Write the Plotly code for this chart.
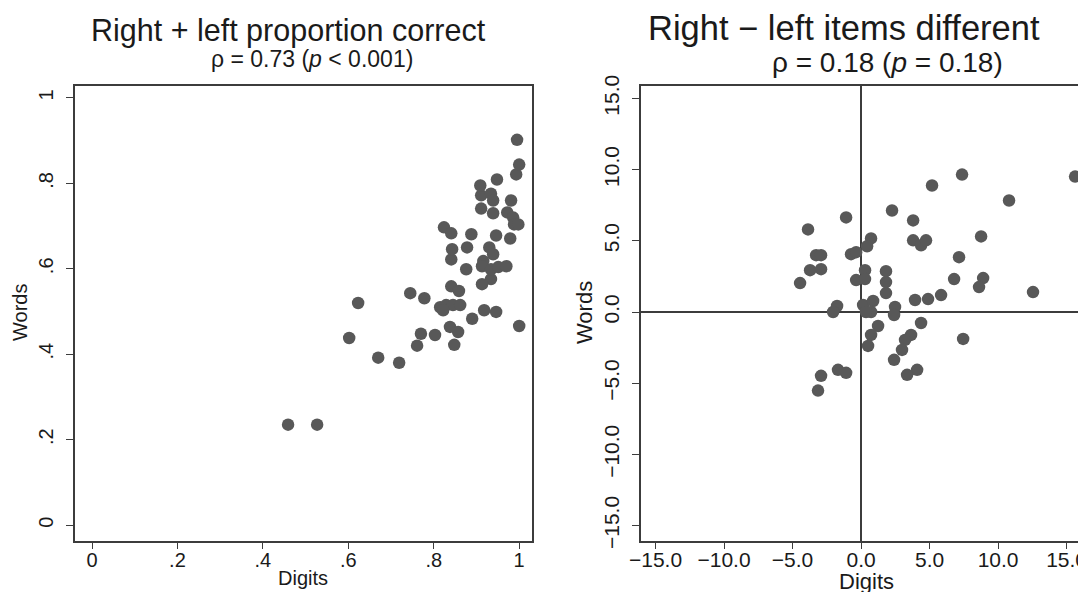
import plotly.graph_objects as go

W, H = 1086, 592

# ---- Data: left panel (right + left proportion correct) ----
digits_prop = [0.459, 0.527, 0.602, 0.623, 0.670, 0.719, 0.745, 0.761, 0.770, 0.778,
               0.803, 0.815, 0.829, 0.845, 0.862, 0.822, 0.848, 0.838, 0.857, 0.890,
               0.918, 0.946, 1.000, 0.841, 0.859, 0.934, 0.913, 0.876, 0.841, 0.916,
               0.913, 0.934, 0.951, 0.970, 0.843, 0.878, 0.930, 0.939, 0.824, 0.841,
               0.888, 0.946, 0.979, 0.911, 0.939, 0.972, 0.986, 0.988, 0.998, 0.911,
               0.934, 0.939, 0.981, 0.909, 0.948, 0.993, 1.000, 0.995]
words_prop = [0.235, 0.235, 0.438, 0.520, 0.392, 0.380, 0.543, 0.420, 0.448, 0.531,
              0.445, 0.510, 0.515, 0.515, 0.515, 0.503, 0.422, 0.464, 0.452, 0.483,
              0.503, 0.499, 0.466, 0.559, 0.548, 0.576, 0.564, 0.599, 0.622, 0.618,
              0.606, 0.599, 0.604, 0.606, 0.646, 0.650, 0.650, 0.634, 0.697, 0.683,
              0.681, 0.678, 0.671, 0.741, 0.730, 0.732, 0.720, 0.704, 0.704, 0.772,
              0.776, 0.760, 0.760, 0.795, 0.809, 0.821, 0.844, 0.902]

# ---- Data: right panel (right - left items different) ----
digits_diff = [-1.09, 2.26, -3.87, 0.73, 0.44, -3.28, -2.92, -0.73, -0.36, -3.72,
               -2.92, 0.29, -0.36, 0.29, 1.82, 1.82, 1.82, -4.45, -1.75, -2.04,
               0.15, 0.88, 0.73, 0.36, 2.48, 2.41, 1.24, 3.80, 8.76, 3.80,
               4.38, 4.74, 7.15, 6.79, 8.91, 8.61, 3.94, 4.89, 5.84, 4.38,
               3.65, 3.21, 2.99, 7.45, 2.41, 4.09, 3.36, 0.73, 0.51, -1.68,
               -1.09, -2.92, -3.14, 7.37, 15.62, 5.18, 10.80, 12.55]
words_diff = [6.64, 7.13, 5.80, 5.17, 4.62, 3.99, 3.99, 4.06, 4.20, 2.94,
              3.01, 2.94, 2.24, 2.31, 2.87, 2.10, 1.33, 2.03, 0.42, 0.00,
              0.49, 0.77, 0.00, 0.00, 0.35, -0.21, -0.98, 6.43, 5.31, 5.03,
              4.69, 5.03, 3.85, 2.31, 2.38, 1.75, 0.84, 0.91, 1.19, -0.77,
              -1.61, -1.96, -2.66, -1.89, -3.36, -4.06, -4.41, -1.61, -2.38, -4.06,
              -4.27, -4.48, -5.52, 9.65, 9.51, 8.88, 7.83, 1.40]

left_ticks = [0, 0.2, 0.4, 0.6, 0.8, 1.0]
left_ticktext = ["0", ".2", ".4", ".6", ".8", "1"]
right_ticks = [-15, -10, -5, 0, 5, 10, 15]
right_ticktext = ["\u221215.0", "\u221210.0", "\u22125.0", "0.0", "5.0", "10.0", "15.0"]

titles = ["Right + left proportion correct", "Right \u2212 left items different"]
subtitles = ["\u03c1 = 0.73 (<i>p</i> &lt; 0.001)", "\u03c1 = 0.18 (<i>p</i> = 0.18)"]
x_title = "Digits"
y_title = "Words"

FONT = "Liberation Sans, Arial, Helvetica, sans-serif"
DOT = "#585858"
AX = "#3c3c3c"
TXT = "#1a1a1a"

def px_x(p):
    return p / W

def px_y(p):
    return 1 - p / H

fig = go.Figure()
fig.add_trace(go.Scatter(x=digits_prop, y=words_prop, mode="markers",
                         marker=dict(size=12.5, color=DOT, line=dict(width=0)),
                         xaxis="x", yaxis="y", showlegend=False))
fig.add_trace(go.Scatter(x=digits_diff, y=words_diff, mode="markers",
                         marker=dict(size=12.5, color=DOT, line=dict(width=0)),
                         xaxis="x2", yaxis="y2", showlegend=False))

ydom = [px_y(533), px_y(78)]

def axis_style(size, ticklen=7, standoff=0):
    return dict(showgrid=False, ticks="outside", ticklen=ticklen, tickwidth=1.2,
                tickcolor=AX, showline=True, linecolor=AX, linewidth=1.5,
                tickfont=dict(family=FONT, size=size, color=TXT),
                ticklabelstandoff=standoff, automargin=False)

fig.update_layout(
    width=W, height=H,
    margin=dict(l=0, r=0, t=0, b=0),
    paper_bgcolor="white", plot_bgcolor="white",
    font=dict(family=FONT, color=TXT),
    xaxis=dict(domain=[px_x(67), px_x(524)], range=[-0.0398, 1.030],
               tickvals=left_ticks, ticktext=left_ticktext, mirror=True,
               zeroline=False, anchor="y", **axis_style(20, 6, -6)),
    yaxis=dict(domain=ydom, range=[-0.0373, 1.028],
               tickvals=left_ticks, ticktext=left_ticktext, mirror=True,
               tickangle=-90, zeroline=False, anchor="x", **axis_style(20, 7, 5)),
    xaxis2=dict(domain=[px_x(633), 1.0], range=[-16.06, 17.0],
                tickvals=right_ticks, ticktext=right_ticktext, mirror=True,
                zeroline=True, zerolinecolor=AX, zerolinewidth=1.5,
                anchor="y2", **axis_style(21, 6, -7)),
    yaxis2=dict(domain=ydom, range=[-16.08, 15.87],
                tickvals=right_ticks, ticktext=right_ticktext, mirror=False,
                tickangle=-90, zeroline=True, zerolinecolor=AX, zerolinewidth=1.5,
                anchor="x2", **axis_style(21, 7, 5)),
)

annots = []
panels = [
    # title x, title y, subtitle x, subtitle y, title size, subtitle size,
    # xlabel x, xlabel y, ylabel x, label size
    (280, 22, 304, 51, 30.5, 23, 295, 570, 12, 20, titles[0], subtitles[0]),
    (836, 20, 879, 55, 34.5, 28, 858, 573, 576, 22, titles[1], subtitles[1]),
]
for tx, ty, sx, sy, tsz, ssz, xlx, xly, ylx, lsz, t, s in panels:
    annots.append(dict(text=t, x=px_x(tx), y=px_y(ty), xref="paper", yref="paper",
                       xanchor="center", yanchor="middle", showarrow=False,
                       font=dict(family=FONT, size=tsz, color=TXT)))
    annots.append(dict(text=s, x=px_x(sx), y=px_y(sy), xref="paper", yref="paper",
                       xanchor="center", yanchor="middle", showarrow=False,
                       font=dict(family=FONT, size=ssz, color=TXT)))
    annots.append(dict(text=x_title, x=px_x(xlx), y=px_y(xly), xref="paper", yref="paper",
                       xanchor="center", yanchor="middle", showarrow=False,
                       font=dict(family=FONT, size=lsz, color=TXT)))
    annots.append(dict(text=y_title, x=px_x(ylx), y=px_y(305), xref="paper", yref="paper",
                       xanchor="center", yanchor="middle", textangle=-90,
                       showarrow=False, font=dict(family=FONT, size=lsz, color=TXT)))
fig.update_layout(annotations=annots)

fig.write_html("out.html")
